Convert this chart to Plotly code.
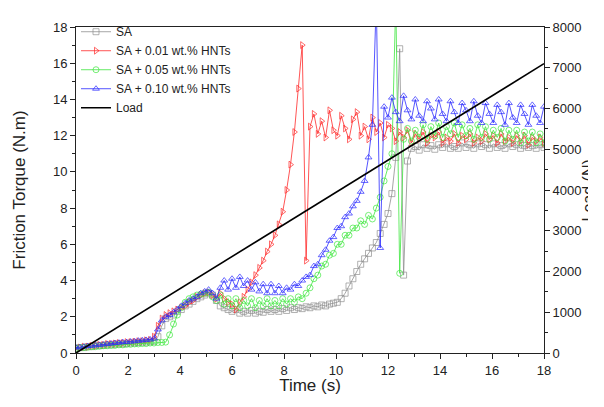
"""Friction torque and load against time for SA greases with HNTs."""

import plotly.graph_objects as go

# sampling grid of the torque records, seconds
time_s = [round(i * 0.15, 2) for i in range(121)]

torque_sa = [
    0.25, 0.3, 0.3, 0.35, 0.35, 0.4, 0.4, 0.42, 0.45, 0.45,
    0.48, 0.5, 0.5, 0.52, 0.55, 0.55, 0.58, 0.6, 0.6, 0.62,
    0.65, 0.9, 1.5, 1.9, 2.0, 2.1, 2.3, 2.4, 2.6, 2.7,
    2.85, 3.0, 3.1, 3.2, 3.3, 3.2, 2.9, 2.6, 2.5, 2.4,
    2.3, 2.4, 2.2, 2.3, 2.2, 2.35, 2.2, 2.3, 2.25, 2.4,
    2.3, 2.4, 2.3, 2.45, 2.35, 2.5, 2.4, 2.5, 2.45, 2.55,
    2.5, 2.6, 2.55, 2.65, 2.6, 2.7, 2.75, 2.8, 3.0, 3.3,
    3.7, 4.1, 4.5, 4.9, 5.2, 5.5, 5.8, 6.1, 6.6, 7.1,
    7.7, 8.8, 10.8, 16.8, 4.3, 10.6, 11.3,
    11.4, 11.2, 11.5, 11.3, 11.45, 11.25, 11.5, 11.35, 11.55, 11.3,
    11.4, 11.3, 11.6, 11.35, 11.5, 11.3, 11.55, 11.4, 11.5, 11.3,
    11.55, 11.35, 11.45, 11.3, 11.55, 11.4, 11.5, 11.3, 11.45, 11.35,
    11.45, 11.3, 11.5, 11.35,
]

torque_001 = [
    0.3, 0.3, 0.35, 0.35, 0.4, 0.4, 0.45, 0.45, 0.5, 0.5,
    0.52, 0.55, 0.55, 0.6, 0.6, 0.62, 0.65, 0.65, 0.7, 0.72,
    0.9, 1.5, 1.9, 2.1, 2.2, 2.3, 2.4, 2.5, 2.6, 2.8,
    2.9, 3.1, 3.2, 3.3, 3.35, 3.2, 3.0, 3.3, 3.0, 2.8,
    2.7, 2.4, 2.8, 3.1, 3.5, 3.9, 4.3, 4.7, 5.1, 5.6,
    6.0, 6.5, 7.1, 7.8, 9.0, 10.4, 12.2, 14.6, 17.0, 5.1,
    12.5,
    13.2, 12.1, 12.8, 11.9, 13.4, 12.3, 12.0, 13.1, 12.4, 11.8,
    12.9, 13.3, 12.0, 12.5, 11.8, 13.0, 12.2, 12.7, 11.9, 12.6,
    12.4, 11.7, 12.2, 11.9, 12.3, 11.6, 12.1, 11.8, 12.2, 11.6,
    12.0, 11.9, 12.2, 11.6, 11.9, 11.7, 12.1, 11.6, 12.0, 11.8,
    12.1, 11.6, 11.9, 11.7, 12.1, 11.8, 12.0, 11.6, 12.1, 11.7,
    11.9, 11.6, 12.0, 11.7, 12.0, 11.5, 11.9, 11.7, 11.9, 11.6,
]

torque_005 = [
    0.25, 0.3, 0.3, 0.32, 0.35, 0.35, 0.38, 0.4, 0.4, 0.42,
    0.42, 0.45, 0.45, 0.48, 0.48, 0.5, 0.5, 0.52, 0.52, 0.55,
    0.55, 0.58, 0.58, 0.6, 1.0, 1.6, 2.1, 2.5, 2.8, 3.0,
    3.1, 3.2, 3.25, 3.3, 3.35, 3.1, 2.9, 3.2, 2.7, 3.0,
    2.6, 3.0, 2.5, 2.9, 2.6, 3.0, 2.5, 2.9, 2.6, 3.0,
    2.6, 2.9, 2.6, 3.0, 2.7, 3.0, 2.8, 3.1, 3.0, 3.3,
    3.6, 4.1, 4.3, 4.8, 4.9, 5.4, 5.5, 6.0, 6.0, 6.5,
    6.5, 6.9, 6.9, 7.3, 7.1, 7.6, 7.4, 8.0, 8.6, 9.5,
    10.3, 11.0, 19.5, 4.4, 11.8,
    12.4, 11.7, 12.3, 11.9, 12.6, 11.8, 12.5, 12.0, 12.7, 11.9,
    12.5, 12.1, 12.7, 11.9, 12.6, 12.0, 12.4, 11.8, 12.6, 11.9,
    12.5, 11.8, 12.3, 11.9, 12.4, 11.7, 12.3, 11.8, 12.3, 11.6,
    12.2, 11.7, 12.2, 11.6, 12.1, 11.6,
]

torque_010 = [
    0.3, 0.32, 0.35, 0.38, 0.4, 0.42, 0.45, 0.47, 0.5, 0.52,
    0.55, 0.57, 0.6, 0.6, 0.63, 0.65, 0.68, 0.7, 0.72, 0.75,
    0.8, 1.3, 1.8, 2.0, 2.1, 2.25, 2.4, 2.6, 2.75, 2.9,
    3.0, 3.1, 3.3, 3.4, 3.5, 3.3, 3.0, 3.6, 4.0, 3.5,
    4.1, 3.6, 4.2, 3.7, 4.0, 3.5, 3.9, 3.4, 3.8, 3.3,
    3.8, 3.3, 3.7, 3.3, 3.6, 3.5, 3.8, 3.7, 4.0, 4.2,
    4.3, 4.8, 4.9, 5.4, 5.7, 6.2, 6.4, 6.9, 7.0, 7.5,
    7.7, 8.1, 8.4, 8.9, 9.5, 10.8, 12.6, 19.5, 5.8, 13.6,
    13.0, 14.1, 13.3, 12.8, 14.2, 13.4, 12.9, 14.0, 13.1, 12.8,
    13.9, 13.5, 12.9, 14.0, 13.2, 12.8, 13.9, 13.3, 12.7, 13.8,
    13.4, 12.8, 13.9, 13.1, 12.7, 13.8, 13.2, 12.7, 13.7, 13.3,
    12.6, 13.8, 13.0, 12.7, 13.7, 13.2, 12.6, 13.7, 13.1, 12.7,
    13.6,
]

load_time_s = [0, 18]
load_n = [0, 7100]

series = [
    ("SA", torque_sa, "#8f8f8f", "square-open"),
    ("SA + 0.01 wt.% HNTs", torque_001, "#ff2a2a", "triangle-right-open"),
    ("SA + 0.05 wt.% HNTs", torque_005, "#3ee63e", "circle-open"),
    ("SA + 0.10 wt.% HNTs", torque_010, "#2a2aff", "triangle-up-open"),
]

font_family = "Liberation Sans, Arial, sans-serif"

fig = go.Figure()
for name, values, colour, symbol in series:
    fig.add_trace(
        go.Scatter(
            x=time_s,
            y=values,
            mode="lines+markers",
            name=name,
            line={"color": colour, "width": 0.8},
            marker={"symbol": symbol, "size": 6, "color": colour, "line": {"width": 0.7}},
        ),
    )

fig.add_trace(
    go.Scatter(
        x=load_time_s,
        y=load_n,
        mode="lines",
        name="Load",
        line={"color": "black", "width": 1.6},
        yaxis="y2",
    ),
)

axis_common = {
    "ticks": "outside",
    "ticklen": 5,
    "tickwidth": 1,
    "tickcolor": "#222",
    "showline": True,
    "linecolor": "#222",
    "linewidth": 1,
    "showgrid": False,
    "zeroline": False,
    "automargin": False,
    "tickfont": {"size": 13, "color": "#222"},
}

# the page body adds an 8 px margin, so keep the figure well inside the window
fig.update_layout(
    width=580,
    height=387,
    margin={"l": 68, "r": 44, "t": 9, "b": 42},
    plot_bgcolor="white",
    paper_bgcolor="white",
    font={"family": font_family, "color": "#222"},
    showlegend=True,
    legend={
        "x": 0.0,
        "y": 1.03,
        "xanchor": "left",
        "yanchor": "top",
        "bgcolor": "rgba(0,0,0,0)",
        "font": {"size": 12, "color": "#222"},
        "tracegroupgap": 0,
        "itemwidth": 30,
    },
    xaxis={
        **axis_common,
        "range": [0, 18],
        "dtick": 2,
        "mirror": True,
        "minor": {"dtick": 1, "ticks": "outside", "ticklen": 3, "tickcolor": "#222"},
        "title": {"text": "Time (s)", "font": {"size": 17}, "standoff": 2},
    },
    yaxis={
        **axis_common,
        "range": [0, 18],
        "dtick": 2,
        "minor": {"dtick": 1, "ticks": "outside", "ticklen": 3, "tickcolor": "#222"},
        "title": {"text": "Friction Torque (N.m)", "font": {"size": 17}, "standoff": 22},
    },
    yaxis2={
        **axis_common,
        "range": [0, 8000],
        "dtick": 1000,
        "overlaying": "y",
        "side": "right",
        "minor": {"dtick": 500, "ticks": "outside", "ticklen": 3, "tickcolor": "#222"},
    },
)

# right-hand axis title as an annotation so it stays inside the page
fig.add_annotation(
    text="Load (N)",
    xref="paper",
    yref="paper",
    x=1.095,
    y=0.5,
    xanchor="center",
    yanchor="middle",
    textangle=-90,
    showarrow=False,
    font={"size": 16, "color": "#222"},
)

fig.write_html("out.html")
